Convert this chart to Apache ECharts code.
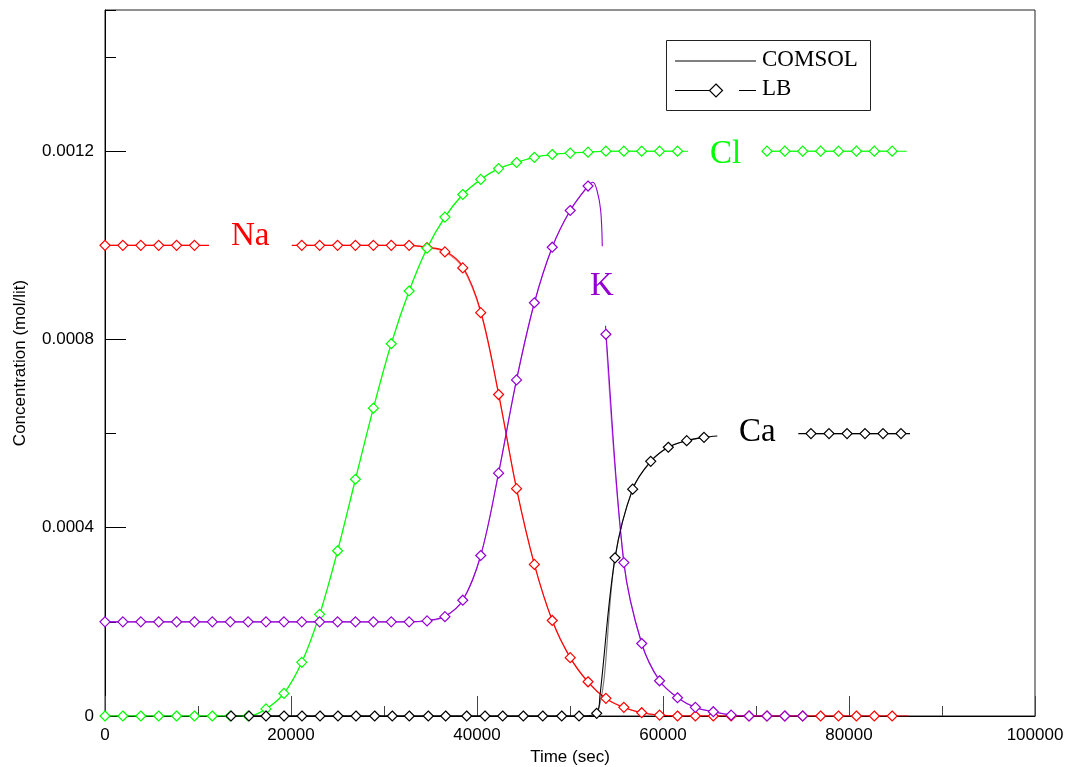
<!DOCTYPE html>
<html><head><meta charset="utf-8">
<script src="https://cdn.jsdelivr.net/npm/echarts@6/dist/echarts.min.js"></script>
<style>html,body{margin:0;padding:0;background:#fff}#c{width:1067px;height:767px}</style>
</head><body><div id="c"></div>
<script>
// ---------- data ----------
// LB marker times (sec) shared by Na, Cl and K
const timeLB = [0,1920,3850,5770,7700,9620,11540,13470,15390,17310,19240,21160,23080,25010,26930,28860,30780,32700,34630,36550,38470,40400,42320,44250,46170,48090,50020,51940,53860,55790,57710,59630,61560,63480,65410,67330,69250,71180,73100,75020,76950,78870,80800,82720,84640];
// LB concentrations (mol/lit); null = no marker (label gap)
const naLB = [0.001,0.001,0.001,0.001,0.001,0.001,null,null,null,null,null,0.001,0.001,0.001,0.001,0.001,0.001,0.001,0.000995,0.000986,0.000952,0.000857,0.000683,0.000483,0.000322,0.000203,0.000124,0.0000727,0.0000375,0.0000184,0.000007,0.000002,0,0,0,0,0,0,0,0,0,0,0,0,0];
const clLB = [0,0,0,0,0,0,0,0,0,0.000015,0.000048,0.000114,0.000216,0.000351,0.000503,0.000654,0.000791,0.000903,0.000994,0.00106,0.001108,0.00114,0.001163,0.001176,0.001187,0.001193,0.001196,0.001198,0.0012,0.0012,0.0012,0.0012,0.0012,null,null,null,null,0.0012,0.0012,0.0012,0.0012,0.0012,0.0012,0.0012,0.0012];
const kLB = [0.0002,0.0002,0.0002,0.0002,0.0002,0.0002,0.0002,0.0002,0.0002,0.0002,0.0002,0.0002,0.0002,0.0002,0.0002,0.0002,0.0002,0.0002,0.000202,0.000211,0.000246,0.000341,0.000516,0.000714,0.000878,0.000996,0.001074,0.001126,0.000811,0.000326,0.000154,0.0000748,0.0000388,0.0000184,0.0000091,0.000002,0,0,0,0,null,null,null,null,null];
// Ca LB markers have their own times
const caTimeLB = [13550,15480,17310,19250,21180,23120,25050,26990,29000,30890,32720,34760,36630,38890,40860,42760,44980,47070,49110,50970,52870,54840,56740,58680,60570,62550,64410,null,75910,77850,79790,81720,83660,85590];
const caLB = [0,0,0,0,0,0,0,0,0,0,0,0,0,0,0,0,0,0,0,0,0.0000057,0.000336,0.000482,0.000541,0.000571,0.000585,0.000592,null,0.0006,0.0006,0.0006,0.0006,0.0006,0.0006];

// COMSOL curves as [time, concentration]; null = break in the line
const comsolNa = [[0,0.001],[11180,0.001],null,[20080,0.001],[32700,0.001],[34630,0.000996],[36550,0.000988],[38470,0.000955],[40400,0.00086],[42320,0.000685],[44250,0.000483],[46170,0.000322],[48090,0.000203],[50020,0.000124],[51940,0.000072],[53860,0.000037],[55790,0.000018],[57710,0.000007],[59630,0.000002],[61560,0],[86400,0]];
const comsolCl = [[0,0],[15390,0],[17310,0.000015],[19240,0.000048],[21160,0.000114],[23080,0.000216],[25010,0.000351],[26930,0.000503],[28860,0.000654],[30780,0.000791],[32700,0.000903],[34630,0.000994],[36550,0.00106],[38470,0.001108],[40400,0.00114],[42320,0.001163],[44250,0.001176],[46170,0.001187],[48090,0.001193],[50020,0.001196],[51940,0.001198],[53860,0.0012],[62690,0.0012],null,[70680,0.0012],[86200,0.0012]];
const comsolK = [[0,0.0002],[32700,0.0002],[34630,0.000203],[36550,0.000212],[38470,0.000246],[40400,0.000341],[42320,0.000516],[44250,0.000714],[46170,0.000878],[48090,0.000996],[50020,0.001074],[51940,0.001126],[52470,0.001134],[52900,0.001117],[53300,0.001074],[53470,0.000998],null,[53820,0.000829],[53870,0.000811],[55790,0.000326],[57710,0.000154],[59630,0.000075],[61560,0.000039],[63480,0.000018],[65410,0.000009],[67330,0.000002],[69250,0],[75100,0]];
const comsolCa = [[13300,0],[51000,0],[52870,0.0000057],[53230,0.000045],[54840,0.000336],[56740,0.000482],[58680,0.000541],[60570,0.000571],[62550,0.000585],[64410,0.000592],[65840,0.000595],null,[74550,0.0006],[86560,0.0006]];

const speciesNames = ['Na','Cl','K','Ca'];
const legendNames = ['COMSOL','LB'];
const xAxisTitle = 'Time (sec)';
const yAxisTitle = 'Concentration (mol/lit)';

// ---------- styling ----------
const colors = {Na:'#ff0000', Cl:'#00ff00', K:'#9400d3', Ca:'#000000'};
const serif = '"Liberation Serif","Times New Roman",serif';
const sans = '"Liberation Sans",Arial,sans-serif';

function pairs(times, vals){
  return times.map((t,i)=> (t===null || vals[i]===null) ? ['-','-'] : [t, vals[i]]);
}
function comsolPairs(arr){ return arr.map(p => p===null ? ['-','-'] : p); }

const lbData = {
  Na: pairs(timeLB, naLB),
  Cl: pairs(timeLB, clLB),
  K: (function(){ const d = pairs(timeLB, kLB); d.splice(28,0,['-','-']); return d; })(),
  Ca: pairs(caTimeLB, caLB)
};
const comsolData = {Na: comsolPairs(comsolNa), Cl: comsolPairs(comsolCl), K: comsolPairs(comsolK), Ca: comsolPairs(comsolCa)};

const series = [];
speciesNames.forEach(s=>{
  series.push({
    name: s+' COMSOL', type:'line', data: comsolData[s], showSymbol:false, symbol:'none',
    smooth:0.35, connectNulls:false, silent:true, z:2,
    lineStyle:{color:colors[s], width:1.1}
  });
  series.push({
    name: s+' LB', type:'line', data: lbData[s], symbol:'diamond', symbolSize:10, showAllSymbol:true,
    smooth:0.35, connectNulls:false, silent:true, z:3,
    itemStyle:{color:'#ffffff', borderColor:colors[s], borderWidth:1.2},
    lineStyle:{color:colors[s], width:1.2, opacity:0.5}
  });
});

const chart = echarts.init(document.getElementById('c'), null, {renderer:'canvas'});
chart.setOption({
  animation:false,
  backgroundColor:'#ffffff',
  grid:{left:105, right:32, top:10, bottom:51, show:true, borderColor:'#222', borderWidth:1, backgroundColor:'transparent', containLabel:false, outerBoundsMode:'none'},
  xAxis:{
    type:'value', min:0, max:100000, interval:20000,
    name:xAxisTitle, nameLocation:'middle', nameGap:32,
    nameTextStyle:{color:'#000', fontFamily:sans, fontSize:17},
    axisLine:{lineStyle:{color:'#000', width:1}},
    axisTick:{show:true, inside:true, length:20, lineStyle:{color:'#444'}},
    minorTick:{show:true, splitNumber:2, length:10, lineStyle:{color:'#444'}},
    axisLabel:{color:'#000', fontFamily:sans, fontSize:17, margin:11, formatter:v=>String(v)},
    splitLine:{show:false}
  },
  yAxis:[{
    type:'value', min:0, max:0.0015, interval:0.0004,
    name:yAxisTitle, nameLocation:'middle', nameGap:76, nameRotate:90,
    nameTextStyle:{color:'#000', fontFamily:sans, fontSize:17},
    axisLine:{show:true, lineStyle:{color:'#000', width:1}},
    axisTick:{show:true, inside:true, length:21, lineStyle:{color:'#000'}},
    axisLabel:{color:'#000', fontFamily:sans, fontSize:17, margin:11, showMaxLabel:false,
      formatter:v=> v===0 ? '0' : (Math.abs(v/0.0004 - Math.round(v/0.0004))<1e-6 ? v.toFixed(4) : '')},
    splitLine:{show:false}
  },{
    type:'value', min:0, max:0.0015, interval:0.0002, position:'left', offset:0,
    axisLine:{show:false}, axisLabel:{show:false}, splitLine:{show:false},
    axisTick:{show:true, inside:true, length:11, lineStyle:{color:'#000'}}
  }],
  series:series,
  graphic:[
    // legend box
    {type:'rect', shape:{x:666.5, y:40.5, width:204, height:70}, style:{fill:'#fff', stroke:'#222', lineWidth:1}, z:10},
    {type:'line', shape:{x1:675, y1:61, x2:756, y2:61}, style:{stroke:'#000', lineWidth:1}, z:11},
    {type:'text', left:762, top:48, style:{text:legendNames[0], font:'23px '+serif, fill:'#000'}, z:11},
    {type:'line', shape:{x1:675, y1:90.5, x2:709.5, y2:90.5}, style:{stroke:'#000', lineWidth:1}, z:11},
    {type:'polygon', shape:{points:[[716,84],[722.5,90.5],[716,97],[709.5,90.5]]}, style:{fill:'#fff', stroke:'#000', lineWidth:1.2}, z:11},
    {type:'line', shape:{x1:739, y1:90.5, x2:756, y2:90.5}, style:{stroke:'#000', lineWidth:1}, z:11},
    {type:'text', left:762, top:77, style:{text:legendNames[1], font:'23px '+serif, fill:'#000'}, z:11},
    // species labels
    {type:'text', left:231, top:220, style:{text:speciesNames[0], font:'33px '+serif, fill:colors.Na}, z:11},
    {type:'text', left:710, top:138, style:{text:speciesNames[1], font:'33px '+serif, fill:colors.Cl}, z:11},
    {type:'text', left:590, top:270, style:{text:speciesNames[2], font:'33px '+serif, fill:colors.K}, z:11},
    {type:'text', left:739, top:416, style:{text:speciesNames[3], font:'33px '+serif, fill:colors.Ca}, z:11}
  ]
});
</script></body></html>
